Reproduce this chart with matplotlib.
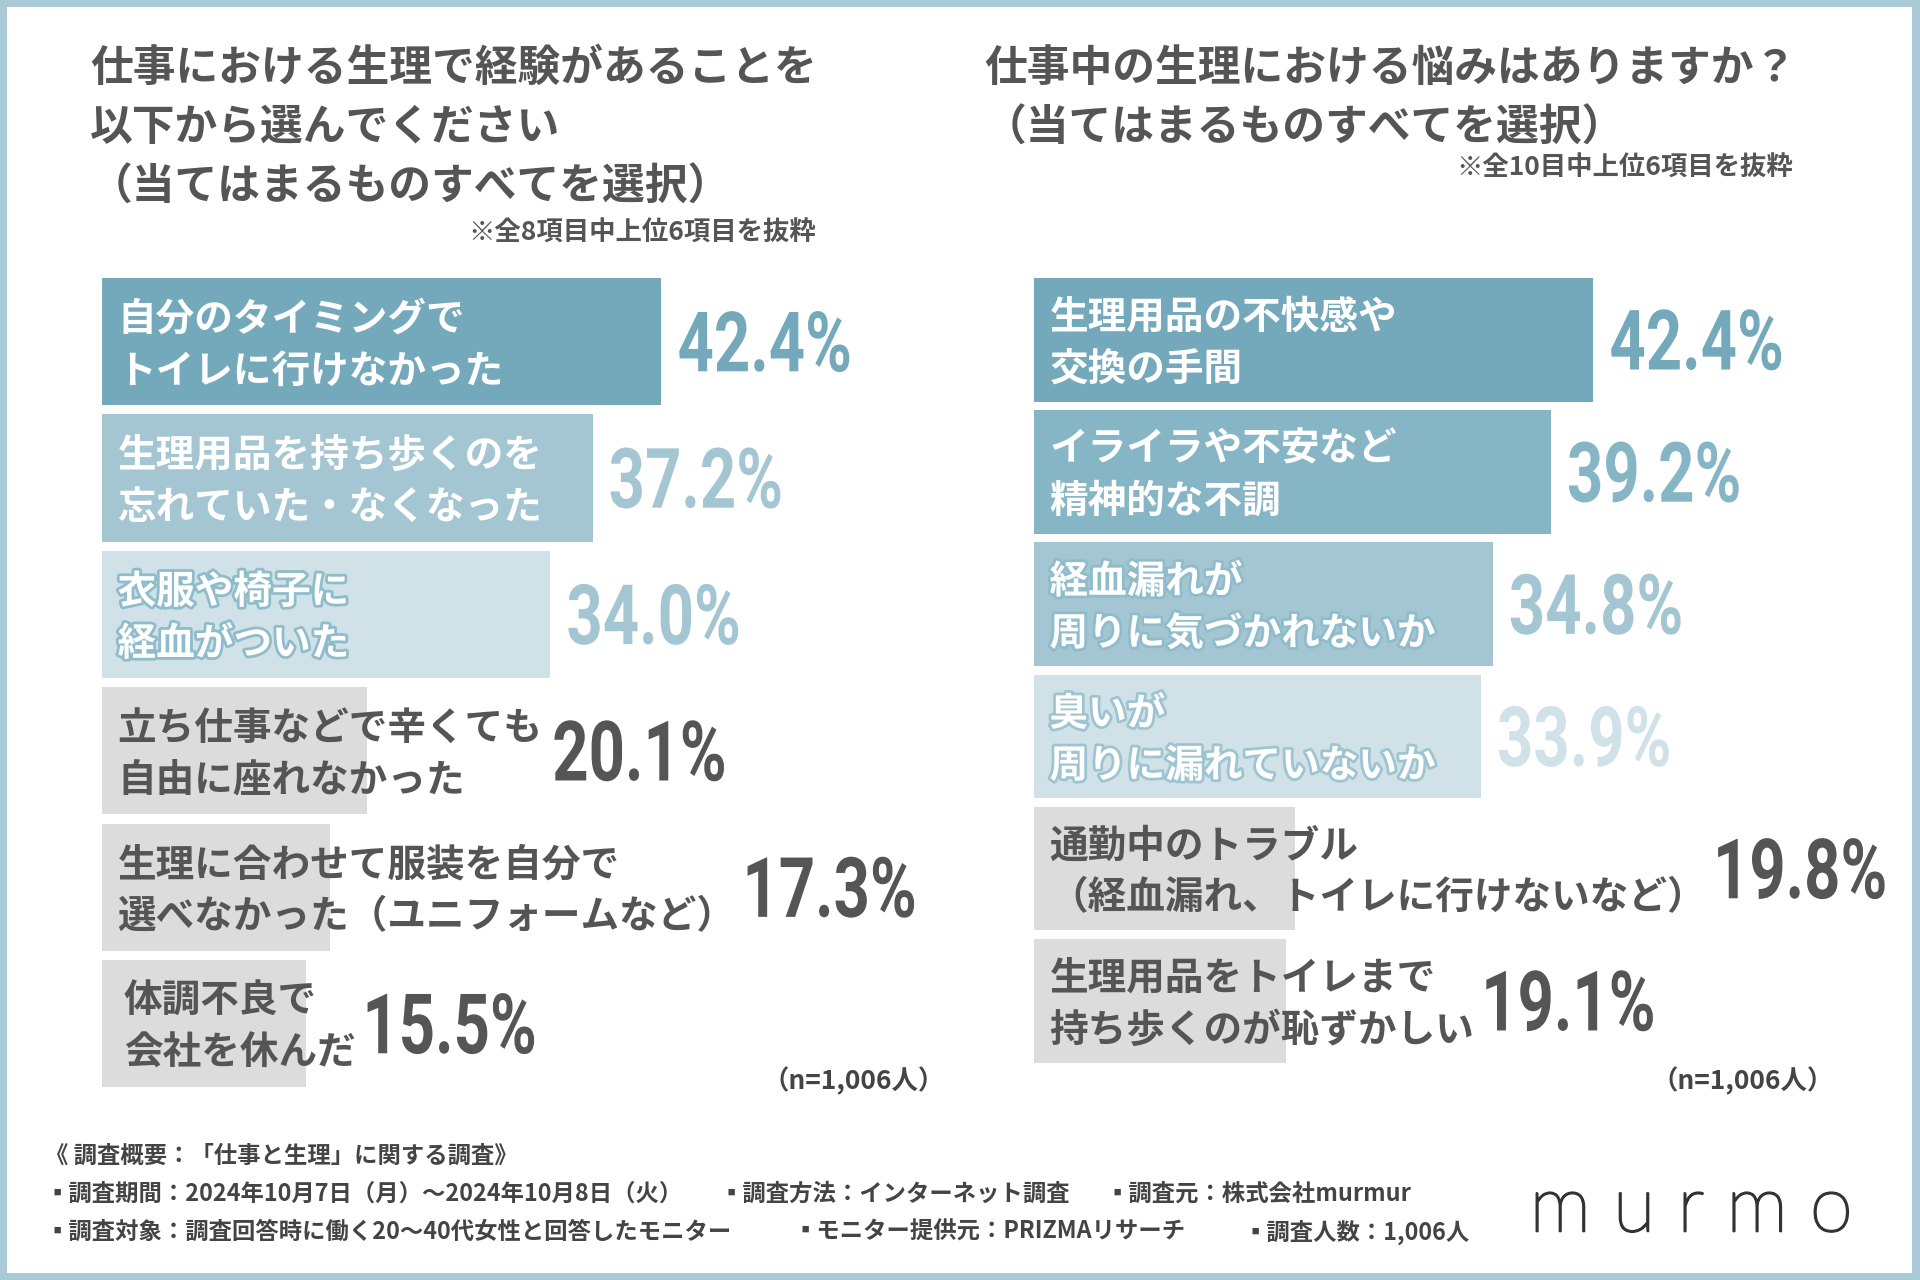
import matplotlib
matplotlib.use("Agg")
import matplotlib.pyplot as plt
import matplotlib.patheffects as pe
from matplotlib import font_manager
from matplotlib.font_manager import FontProperties
from matplotlib.patches import Rectangle, PathPatch
from matplotlib.textpath import TextPath
from matplotlib.transforms import Affine2D

# --- data -------------------------------------------------------------
left_title = ["仕事における生理で経験があることを",
              "以下から選んでください",
              "（当てはまるものすべてを選択）"]
left_note = "※全8項目中上位6項目を抜粋"
left_labels = ["自分のタイミングで\nトイレに行けなかった",
               "生理用品を持ち歩くのを\n忘れていた・なくなった",
               "衣服や椅子に\n経血がついた",
               "立ち仕事などで辛くても\n自由に座れなかった",
               "生理に合わせて服装を自分で\n選べなかった（ユニフォームなど）",
               "体調不良で\n会社を休んだ"]
left_values = [42.4, 37.2, 34.0, 20.1, 17.3, 15.5]

right_title = ["仕事中の生理における悩みはありますか？",
               "（当てはまるものすべてを選択）"]
right_note = "※全10目中上位6項目を抜粋"
right_labels = ["生理用品の不快感や\n交換の手間",
                "イライラや不安など\n精神的な不調",
                "経血漏れが\n周りに気づかれないか",
                "臭いが\n周りに漏れていないか",
                "通勤中のトラブル\n（経血漏れ、トイレに行けないなど）",
                "生理用品をトイレまで\n持ち歩くのが恥ずかしい"]
right_values = [42.4, 39.2, 34.8, 33.9, 19.8, 19.1]

n_text = "（n=1,006人）"
footer_lines = [
    [("《 調査概要：「仕事と生理」に関する調査》", 45)],
    [("▪調査期間：2024年10月7日（月）～2024年10月8日（火）", 45),
     ("▪調査方法：インターネット調査", 720),
     ("▪調査元：株式会社murmur", 1106)],
    [("▪調査対象：調査回答時に働く20～40代女性と回答したモニター", 45),
     ("▪モニター提供元：PRIZMAリサーチ", 794),
     ("▪調査人数：1,006人", 1243)],
]

# --- styles -----------------------------------------------------------
DARK = "#73a9bb"
MID = "#86b6c6"
MEDL = "#a4c6d2"
LIGHT = "#d0e2e8"
GREY = "#dcdcdc"
TXT = "#555555"

left_colors = [DARK, MEDL, LIGHT, GREY, GREY, GREY]
left_vcolors = [DARK, MEDL, MEDL, TXT, TXT, TXT]
left_outline = [None, None, "#8fbccb", None, None, None]
left_indent = [11.5, 11.5, 11.5, 11.5, 11.5, 16]
right_colors = [DARK, MID, MEDL, LIGHT, GREY, GREY]
right_vcolors = [DARK, MID, MEDL, LIGHT, TXT, TXT]
right_outline = [None, None, "#8fbccb", "#9fc4d1", None, None]
right_indent = [11.5] * 6

JP = ["Noto Sans CJK JP", "DejaVu Sans"]
avail = {f.name for f in font_manager.fontManager.ttflist}
NUM = "DejaVu Sans"
for cand in ["Roboto", "Inter", "Lato"]:
    if cand in avail:
        NUM = cand
        break
num_prop = FontProperties(family=NUM, weight="bold")

W, H = 1920, 1280
fig = plt.figure(figsize=(W / 100, H / 100), dpi=100)
fig.patch.set_facecolor("#a8c9d5")
fig.patches.append(Rectangle((7 / W, 7 / H), (W - 15) / W, (H - 14) / H,
                             transform=fig.transFigure, facecolor="white",
                             edgecolor="none", zorder=-10))


def fx(px):
    return px / W


def fy(py):
    return 1 - py / H


def ftext(x, y, s, **kw):
    fig.text(fx(x), fy(y), s, family=JP, **kw)


# titles
for i, line in enumerate(left_title):
    ftext(90, 68 + i * 59.5, line, fontsize=30.8, fontweight="bold", color=TXT, va="center")
ftext(816, 233, left_note, fontsize=19, fontweight="bold", color=TXT, va="center", ha="right")
for i, line in enumerate(right_title):
    ftext(984, 68 + i * 59.5, line, fontsize=30.8, fontweight="bold", color=TXT, va="center")
ftext(1793, 168, right_note, fontsize=19, fontweight="bold", color=TXT, va="center", ha="right")

PX_PER_PCT = 13.2
CAP_H = 61      # digit height in px
SQUEEZE = 0.76  # condensed look for the percentages


def draw_value(x_px, y_px, s, color):
    # condensed number: text path squeezed horizontally, drawn in pixels
    tp = TextPath((0, 0), s, size=100, prop=num_prop)
    ext = tp.get_extents()
    k = CAP_H / ext.height
    tr = Affine2D().translate(-ext.x0, -ext.y0).scale(k * SQUEEZE, k).translate(x_px, y_px - CAP_H / 2)
    fig.patches.append(PathPatch(tr.transform_path(tp), facecolor=color,
                                 edgecolor="none", transform=None, zorder=5))


def bar_chart(left_px, top_px, pitch_px, bar_h, labels, values, colors, vcolors, outlines, indent):
    n = len(values)
    xmax = 60
    ax = fig.add_axes([fx(left_px), fy(top_px + n * pitch_px),
                       xmax * PX_PER_PCT / W, n * pitch_px / H])
    ax.set_xlim(0, xmax)
    ax.set_ylim(n - 0.5, -0.5)
    ax.axis("off")
    ax.barh(range(n), values, height=bar_h, color=colors, zorder=1)
    fig.canvas.draw()
    r = fig.canvas.get_renderer()
    for i, (lab, v) in enumerate(zip(labels, values)):
        tcol = TXT if colors[i] == GREY else "white"
        eff = None
        if outlines[i]:
            eff = [pe.Stroke(linewidth=4, foreground=outlines[i]), pe.Normal()]
        t = ax.annotate(lab, xy=(0, i), xytext=(indent[i], -2.5), textcoords="offset points",
                        ha="left", va="center", fontsize=27.8, fontweight="bold",
                        color=tcol, family=JP, linespacing=1.42, zorder=3,
                        path_effects=eff)
        bb = t.get_window_extent(r)
        bar_end, yc = ax.transData.transform((v, i))
        x0 = max(bar_end + 18, bb.x1 + 12)
        draw_value(x0, yc, f"{v:.1f}%", vcolors[i])
    return ax


bar_chart(101.6, 273.4, 136.4, 0.933, left_labels, left_values,
          left_colors, left_vcolors, left_outline, left_indent)
bar_chart(1033.5, 273.7, 132.2, 0.935, right_labels, right_values,
          right_colors, right_vcolors, right_outline, right_indent)

ftext(945, 1081, n_text, fontsize=19, fontweight="bold", color="#444444", va="center", ha="right")
ftext(1834, 1081, n_text, fontsize=19, fontweight="bold", color="#444444", va="center", ha="right")

for row, items in zip([1156, 1194, 1232], footer_lines):
    for s, x in items:
        ftext(x, row, s, fontsize=16.8, fontweight="bold", color="#444444", va="center")

# logo
fig.text(fx(1691), fy(1210), "m u r m o", fontsize=56, color="#333333",
         family=["Lato", "DejaVu Sans"], fontweight="light", ha="center", va="center",
         path_effects=[pe.Stroke(linewidth=1.6, foreground="#333333"), pe.Normal()])

fig.savefig("out.png", dpi=100, facecolor=fig.get_facecolor())
